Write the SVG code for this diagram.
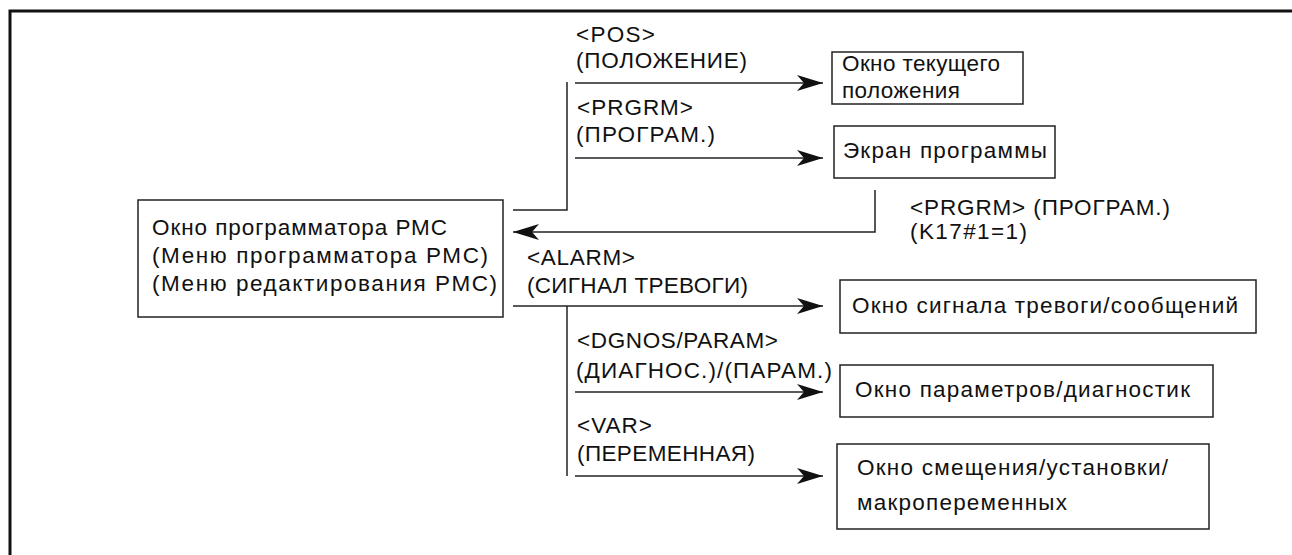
<svg xmlns="http://www.w3.org/2000/svg" width="1292" height="555" viewBox="0 0 1292 555">
<defs>
<style>
text{font-family:"Liberation Sans",Arial,sans-serif;font-size:22.5px;fill:#111}
.box{fill:#fff;stroke:#222;stroke-width:1.5}
.ln{fill:none;stroke:#222;stroke-width:1.5}
.frame{fill:none;stroke:#111;stroke-width:3}
</style>
<marker id="ah" viewBox="0 0 26 16" refX="26" refY="8" markerWidth="26" markerHeight="16" markerUnits="userSpaceOnUse" orient="auto">
<path d="M0,0 L26,8 L0,16 L7,8 Z" fill="#111"/>
</marker>
</defs>
<rect width="1292" height="555" fill="#fff"/>
<path class="frame" d="M1292,11 H10 V555"/>
<g id="main">
<rect class="box" x="138" y="200" width="365" height="117"/>
<text x="152" y="235" textLength="295" lengthAdjust="spacing">Окно программатора РМС</text>
<text x="152" y="263" textLength="336" lengthAdjust="spacing">(Меню программатора РМС)</text>
<text x="152" y="291" textLength="345" lengthAdjust="spacing">(Меню редактирования РМС)</text>
</g>
<g id="pos">
<rect class="box" x="832" y="52" width="191" height="52"/>
<text x="842" y="71" textLength="158" lengthAdjust="spacing">Окно текущего</text>
<text x="842" y="98" textLength="118" lengthAdjust="spacing">положения</text>
</g>
<g id="prog">
<rect class="box" x="834" y="126" width="221" height="52"/>
<text x="843" y="158" textLength="204" lengthAdjust="spacing">Экран программы</text>
</g>
<g id="alarm">
<rect class="box" x="840" y="280" width="416" height="53"/>
<text x="852" y="313" textLength="386" lengthAdjust="spacing">Окно сигнала тревоги/сообщений</text>
</g>
<g id="param">
<rect class="box" x="840" y="365" width="373" height="52"/>
<text x="855" y="397" textLength="335" lengthAdjust="spacing">Окно параметров/диагностик</text>
</g>
<g id="offset">
<rect class="box" x="837" y="444" width="372" height="85"/>
<text x="857" y="475" textLength="311" lengthAdjust="spacing">Окно смещения/установки/</text>
<text x="857" y="510" textLength="210" lengthAdjust="spacing">макропеременных</text>
</g>
<g id="connectors">
<path class="ln" d="M513,210 H567 V82"/>
<path class="ln" d="M575,83 H823" marker-end="url(#ah)"/>
<path class="ln" d="M575,158 H823" marker-end="url(#ah)"/>
<path class="ln" d="M875,190 V232 H513" marker-end="url(#ah)"/>
<path class="ln" d="M513,306 H823" marker-end="url(#ah)"/>
<path class="ln" d="M567,306 V476"/>
<path class="ln" d="M575,392 H823" marker-end="url(#ah)"/>
<path class="ln" d="M575,476 H823" marker-end="url(#ah)"/>
</g>
<g id="labels">
<text x="576" y="42" textLength="79" lengthAdjust="spacing">&lt;POS&gt;</text>
<text x="576" y="68" textLength="171" lengthAdjust="spacing">(ПОЛОЖЕНИЕ)</text>
<text x="577" y="115" textLength="116" lengthAdjust="spacing">&lt;PRGRM&gt;</text>
<text x="576" y="142" textLength="139" lengthAdjust="spacing">(ПРОГРАМ.)</text>
<text x="910" y="215" textLength="260" lengthAdjust="spacing">&lt;PRGRM&gt; (ПРОГРАМ.)</text>
<text x="910" y="239" textLength="117" lengthAdjust="spacing">(K17#1=1)</text>
<text x="527" y="265" textLength="108" lengthAdjust="spacing">&lt;ALARM&gt;</text>
<text x="527" y="293" textLength="221" lengthAdjust="spacing">(СИГНАЛ ТРЕВОГИ)</text>
<text x="577" y="348" textLength="201" lengthAdjust="spacing">&lt;DGNOS/PARAM&gt;</text>
<text x="576" y="378" textLength="256" lengthAdjust="spacing">(ДИАГНОС.)/(ПАРАМ.)</text>
<text x="577" y="433" textLength="75" lengthAdjust="spacing">&lt;VAR&gt;</text>
<text x="577" y="461" textLength="178" lengthAdjust="spacing">(ПЕРЕМЕННАЯ)</text>
</g>
</svg>
